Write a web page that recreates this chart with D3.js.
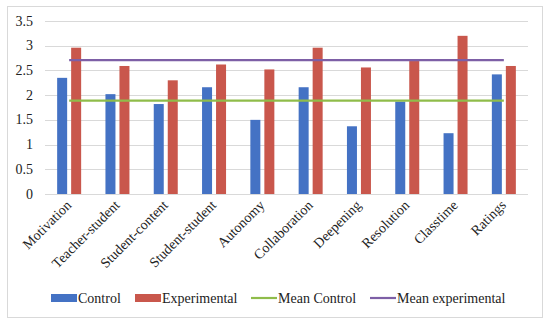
<!DOCTYPE html>
<html>
<head>
<meta charset="utf-8">
<script src="https://cdn.jsdelivr.net/npm/d3@7"></script>
<style>
  body { margin: 0; background: #fff; }
  text { font-family: "Liberation Serif", "DejaVu Serif", serif; fill: #222; }
</style>
</head>
<body>
<svg id="chart" width="550" height="328"></svg>
<script>
const categories = ["Motivation", "Teacher-student", "Student-content", "Student-student", "Autonomy",
  "Collaboration", "Deepening", "Resolution", "Classtime", "Ratings"];
const control = [2.35, 2.02, 1.82, 2.16, 1.50, 2.16, 1.37, 1.87, 1.23, 2.42];
const experimental = [2.96, 2.59, 2.30, 2.62, 2.52, 2.96, 2.56, 2.69, 3.20, 2.59];
const meanControl = 1.89;
const meanExperimental = 2.71;
const yTicks = [0, 0.5, 1, 1.5, 2, 2.5, 3, 3.5];

const svg = d3.select('#chart');
const plotLeft = 45, plotRight = 528, plotTop = 21, plotBottom = 194;

svg.append('rect')
  .attr('x', 7.5).attr('y', 6.5).attr('width', 535).attr('height', 311)
  .attr('fill', '#fff').attr('stroke', '#d9d9d9');

const x = d3.scaleBand().domain(categories).range([plotLeft, plotRight]);
const y = d3.scaleLinear().domain([0, 3.5]).range([plotBottom, plotTop]);

// gridlines
svg.append('g').selectAll('line')
  .data(yTicks)
  .join('line')
  .attr('x1', plotLeft).attr('x2', plotRight)
  .attr('y1', d => Math.round(y(d)) + 0.5).attr('y2', d => Math.round(y(d)) + 0.5)
  .attr('stroke', '#d9d9d9');

svg.append('g').selectAll('text')
  .data(yTicks)
  .join('text')
  .attr('x', 33).attr('y', d => y(d) + 4.5)
  .attr('text-anchor', 'end')
  .attr('font-size', 14)
  .text(d => d);

const barW = 10, gap = 4;
const bars = svg.append('g');
bars.selectAll('.ctrl')
  .data(categories)
  .join('rect')
  .attr('class', 'ctrl')
  .attr('x', d => x(d) + x.bandwidth() / 2 - gap / 2 - barW)
  .attr('width', barW)
  .attr('y', (d, i) => y(control[i]))
  .attr('height', (d, i) => plotBottom - y(control[i]))
  .attr('fill', '#4472c4');
bars.selectAll('.exp')
  .data(categories)
  .join('rect')
  .attr('class', 'exp')
  .attr('x', d => x(d) + x.bandwidth() / 2 + gap / 2)
  .attr('width', barW)
  .attr('y', (d, i) => y(experimental[i]))
  .attr('height', (d, i) => plotBottom - y(experimental[i]))
  .attr('fill', '#c9574c');

const cx = d => x(d) + x.bandwidth() / 2;
const first = categories[0], last = categories[categories.length - 1];
svg.append('line')
  .attr('x1', cx(first)).attr('x2', cx(last))
  .attr('y1', y(meanControl)).attr('y2', y(meanControl))
  .attr('stroke', '#8fbc4a').attr('stroke-width', 2.2);
svg.append('line')
  .attr('x1', cx(first)).attr('x2', cx(last))
  .attr('y1', y(meanExperimental)).attr('y2', y(meanExperimental))
  .attr('stroke', '#7d5fa6').attr('stroke-width', 2.2);

// x labels
svg.append('g').selectAll('text')
  .data(categories)
  .join('text')
  .attr('text-anchor', 'end')
  .attr('font-size', 14)
  .attr('transform', d => `translate(${cx(d) + 3},${plotBottom + 12}) rotate(-45)`)
  .text(d => d);

// legend
const legend = [
  { label: 'Control', type: 'rect', color: '#4472c4', x: 51 },
  { label: 'Experimental', type: 'rect', color: '#c9574c', x: 135 },
  { label: 'Mean Control', type: 'line', color: '#8fbc4a', x: 251 },
  { label: 'Mean experimental', type: 'line', color: '#7d5fa6', x: 370 }
];
const lg = svg.append('g').selectAll('g').data(legend).join('g')
  .attr('transform', d => `translate(${d.x},298)`);
lg.filter(d => d.type === 'rect').append('rect')
  .attr('x', 0).attr('y', -4).attr('width', 26).attr('height', 8)
  .attr('fill', d => d.color);
lg.filter(d => d.type === 'line').append('line')
  .attr('x1', 0).attr('x2', 26).attr('y1', 0).attr('y2', 0)
  .attr('stroke', d => d.color).attr('stroke-width', 2.2);
lg.append('text')
  .attr('x', 27).attr('y', 4.5)
  .attr('font-size', 14)
  .text(d => d.label);
</script>
</body>
</html>
